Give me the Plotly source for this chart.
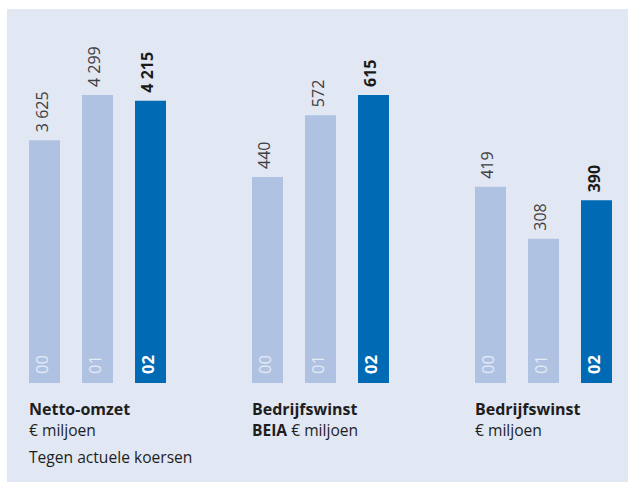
import plotly.graph_objects as go

categories = ["00", "01", "02"]
netto_omzet = [3625, 4299, 4215]
beia = [440, 572, 615]
bedrijfswinst = [419, 308, 390]

W, H = 629, 484
PANEL = "#E1E7F3"
LIGHT = "#AFC2E2"
DARK = "#006AB5"
FONT = "Open Sans"

def fmt(v):
    return f"{v:,}".replace(",", " ")

groups = [
    (netto_omzet, [18, 177], [0, 4299]),
    (beia, [241, 400], [0, 615]),
    (bedrijfswinst, [464, 623], [0, 615]),
]

fig = go.Figure()
ydom = [(H - 383) / H, (H - 95) / H]
annotations = []
for i, (vals, dom, rng) in enumerate(groups):
    n = "" if i == 0 else str(i + 1)
    xa, ya = "x" + n, "y" + n
    fig.add_trace(go.Bar(
        x=categories, y=vals, xaxis=xa, yaxis=ya,
        marker=dict(color=[LIGHT, LIGHT, DARK], line=dict(width=0)),
        showlegend=False, hoverinfo="skip",
    ))
    fig.layout["xaxis" + n] = dict(domain=[dom[0] / W, dom[1] / W], visible=False,
                                   anchor=ya, fixedrange=True)
    fig.layout["yaxis" + n] = dict(domain=ydom, range=rng, visible=False,
                                   anchor=xa, fixedrange=True)
    for j, (c, v) in enumerate(zip(categories, vals)):
        bold = j == 2
        annotations.append(dict(
            x=c, y=v, xref=xa, yref=ya, text=f"<b>{fmt(v)}</b>" if bold else fmt(v),
            textangle=-90, showarrow=False, xanchor="center", yanchor="bottom",
            yshift=6, xshift=-3,
            font=dict(family=FONT, size=16, color="#1a1a1a" if bold else "#404040"),
        ))
        annotations.append(dict(
            x=c, y=0, xref=xa, yref=ya, text=f"<b>{c}</b>" if bold else c,
            textangle=-90, showarrow=False, xanchor="center", yanchor="bottom",
            yshift=7, xshift=-3,
            font=dict(family=FONT, size=16.5, color="#FFFFFF" if bold else "#E4EAF6"),
        ))

def label(x, y, text, size=15.6):
    annotations.append(dict(
        x=x / W, y=1 - y / H, xref="paper", yref="paper", text=text,
        showarrow=False, xanchor="left", yanchor="middle",
        font=dict(family=FONT, size=size, color="#1e1e1e"),
    ))

label(27, 409, "<b>Netto-omzet</b>", 16)
label(27, 430, "€ miljoen")
label(27, 457, "Tegen actuele koersen")
label(250, 409, "<b>Bedrijfswinst</b>", 16)
label(250, 430, "<b>BEIA</b> € miljoen")
label(473, 409, "<b>Bedrijfswinst</b>", 16)
label(473, 430, "€ miljoen")

fig.update_layout(
    width=W, height=H, margin=dict(l=0, r=0, t=0, b=0),
    paper_bgcolor="white", plot_bgcolor="rgba(0,0,0,0)",
    bargap=22 / 53,
    annotations=annotations,
    shapes=[dict(type="rect", xref="paper", yref="paper",
                 x0=7 / W, x1=628 / W, y0=1 - 482 / H, y1=1 - 9 / H,
                 fillcolor=PANEL, line=dict(width=0), layer="below")],
)

fig.write_html("out.html", config={"displayModeBar": False},
               post_script="document.body.style.margin='0';document.body.style.overflow='hidden';")
